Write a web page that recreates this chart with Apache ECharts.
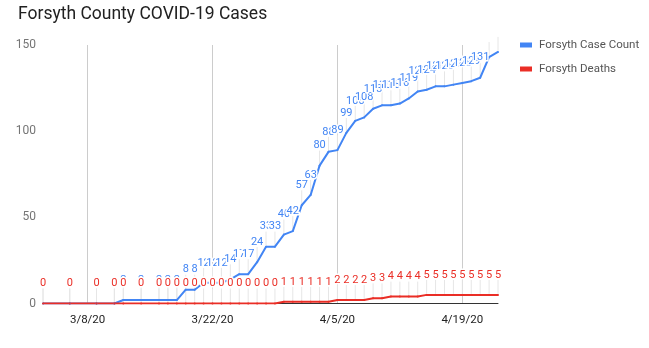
<!DOCTYPE html>
<html><head><meta charset="utf-8">
<script src="https://cdn.jsdelivr.net/npm/echarts@6/dist/echarts.min.js"></script>
<style>html,body{margin:0;padding:0;background:#fff}#c{width:649px;height:348px}</style>
</head><body><div id="c"></div>
<script>
const chartTitle = 'Forsyth County COVID-19 Cases';
const seriesNames = ['Forsyth Case Count', 'Forsyth Deaths'];
const dates = ['3/3','3/6','3/9','3/11','3/12','3/14','3/16','3/17','3/18',
  '3/19','3/20','3/21','3/22','3/23','3/24','3/25','3/26','3/27','3/28','3/29','3/30','3/31',
  '4/1','4/2','4/3','4/4','4/5','4/6','4/7','4/8','4/9','4/10','4/11','4/12','4/13','4/14',
  '4/15','4/16','4/17','4/18','4/19','4/20','4/21','4/22','4/23'];
const caseCount = [0,0,0,0,2,2,2,2,2,
  8,8,12,12,12,14,17,17,24,33,33,40,42,
  57,63,80,88,89,99,106,108,113,115,115,116,119,123,
  124,126,126,127,128,129,131,143,146];
const deaths = [0,0,0,0,0,0,0,0,0,
  0,0,0,0,0,0,0,0,0,0,0,1,1,
  1,1,1,1,2,2,2,2,3,3,4,4,4,4,
  5,5,5,5,5,5,5,5,5];
const xTickDates = ['3/8','3/22','4/5','4/19'];
const yTicks = [0, 50, 100, 150];
const YEAR = 2020;

const toTs = s => { const [m, d] = s.split('/').map(Number); return Date.UTC(YEAR, m - 1, d); };
const ts = dates.map(toTs);
const tickTs = xTickDates.map(toTs);
const yMax = yTicks[yTicks.length - 1];
const BLUE = '#4285f4', RED = '#ea2e26';
const FONT = 'Roboto';

function fmtDate(v) {
  const d = new Date(v);
  return (d.getUTCMonth() + 1) + '/' + d.getUTCDate() + '/' + String(d.getUTCFullYear()).slice(2);
}
function pairs(vals) { return ts.map((t, i) => [t, vals[i]]); }

function lineSeries(name, vals, color) {
  return {
    name, type: 'line', data: pairs(vals), z: 3,
    symbol: 'circle', symbolSize: 2, showSymbol: true,
    itemStyle: { color },
    lineStyle: { color, width: 2 },
    label: {
      show: true, position: 'top', distance: 13.5,
      color, fontFamily: FONT, fontSize: 11,
      textBorderColor: '#fff', textBorderWidth: 3,
      formatter: p => (p.value[1] > yMax - 10 ? '' : String(p.value[1]))
    },
    emphasis: { disabled: true },
    animation: false
  };
}
function leaderSeries(vals) {
  return {
    type: 'custom', silent: true, z: 1, data: pairs(vals), animation: false,
    renderItem: (params, api) => {
      const p = api.coord([api.value(0), api.value(1)]);
      return { type: 'line', shape: { x1: p[0], y1: p[1] - 1, x2: p[0], y2: p[1] - 15 },
        style: { stroke: '#e6e6e6', lineWidth: 1 } };
    }
  };
}

const chart = echarts.init(document.getElementById('c'), null, { renderer: 'canvas' });
chart.setOption({
  animation: false,
  backgroundColor: '#fff',
  title: { text: chartTitle, left: 18, top: 6, padding: 0,
    textStyle: { fontFamily: FONT, fontSize: 17.5, fontWeight: 'normal', color: '#212121' } },
  legend: {
    data: seriesNames.map((n, i) => ({ name: n, icon: 'rect', itemStyle: { color: i ? RED : BLUE } })),
    orient: 'vertical', left: 520, top: 39, padding: 0, itemGap: 12,
    itemWidth: 12, itemHeight: 5,
    textStyle: { fontFamily: FONT, fontSize: 11.5, color: '#555', padding: [0, 0, 0, 2] }
  },
  grid: { left: 43, right: 151, top: 45, bottom: 44.5, containLabel: false },
  xAxis: {
    type: 'value', min: ts[0], max: ts[ts.length - 1],
    axisLine: { show: true, lineStyle: { color: '#333', width: 1 } },
    axisTick: { show: false, customValues: tickTs },
    axisLabel: { customValues: tickTs, formatter: fmtDate, fontFamily: FONT, fontSize: 11.5, color: '#222', margin: 11 },
    splitLine: { show: true, lineStyle: { color: '#cccccc', width: 1 } }
  },
  yAxis: {
    type: 'value', min: yTicks[0], max: yMax, interval: yTicks[1] - yTicks[0],
    axisLine: { show: false }, axisTick: { show: false },
    axisLabel: { fontFamily: FONT, fontSize: 12, color: '#757575', margin: 7 },
    splitLine: { show: false }
  },
  series: [
    leaderSeries(caseCount),
    leaderSeries(deaths),
    lineSeries(seriesNames[0], caseCount, BLUE),
    lineSeries(seriesNames[1], deaths, RED)
  ]
});
</script>
</body></html>
